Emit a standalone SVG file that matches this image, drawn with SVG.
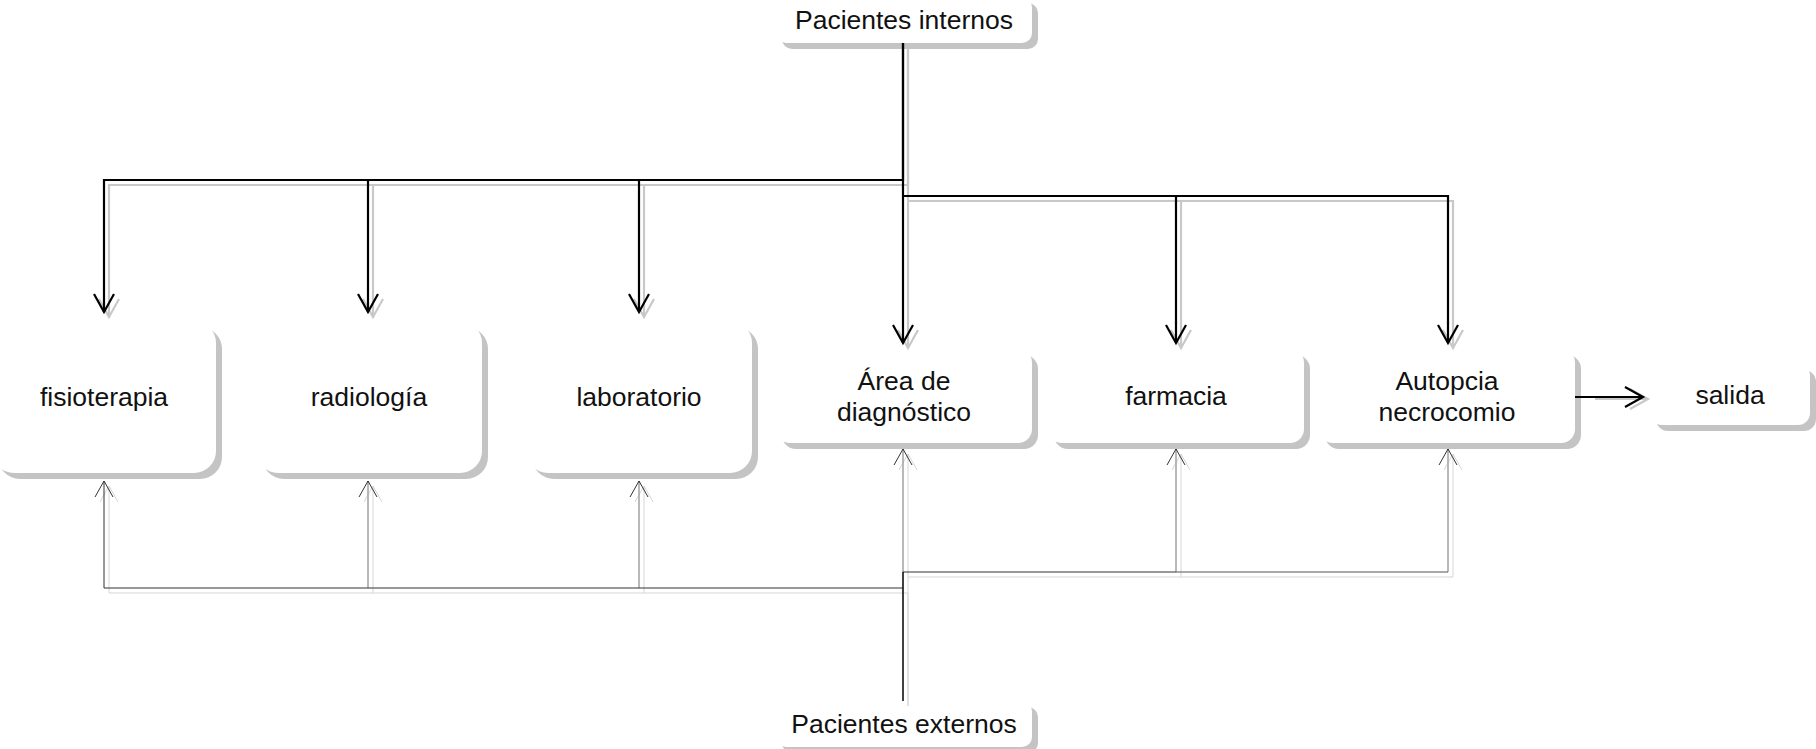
<svg xmlns="http://www.w3.org/2000/svg" width="1816" height="749" viewBox="0 0 1816 749">
<style>
.sh{fill:#c4c4c4}
.bx{fill:#fff}
.t{font-family:"Liberation Sans",Arial,sans-serif;font-size:26.5px;fill:#111;text-anchor:middle}
.k{fill:none;stroke:#000;stroke-width:2.2}
.ks{fill:none;stroke:#c8c8c8;stroke-width:2.2}
.b1{fill:none;stroke:#333;stroke-width:1}
.b2{fill:none;stroke:#a8a8a8;stroke-width:1.6}
.bs{fill:none;stroke:#d6d6d6;stroke-width:1}
.bm{fill:none;stroke:#111;stroke-width:1.6}
</style>
<defs>
<marker id="ak" markerUnits="userSpaceOnUse" viewBox="-20 -12 22 24" refX="0" refY="0" markerWidth="22" markerHeight="24" orient="auto" overflow="visible"><path d="M-18,-10 L0,0 L-18,10" fill="none" stroke="#000" stroke-width="2.2"/></marker>
<marker id="aks" markerUnits="userSpaceOnUse" viewBox="-20 -12 22 24" refX="0" refY="0" markerWidth="22" markerHeight="24" orient="auto" overflow="visible"><path d="M-18,-10 L0,0 L-18,10" fill="none" stroke="#c8c8c8" stroke-width="2.2"/></marker>
<marker id="ab" markerUnits="userSpaceOnUse" viewBox="-18 -11 20 22" refX="0" refY="0" markerWidth="20" markerHeight="22" orient="auto" overflow="visible"><path d="M-16,-9 L0,0 L-16,9" fill="none" stroke="#333" stroke-width="1"/></marker>
<marker id="abs" markerUnits="userSpaceOnUse" viewBox="-18 -11 20 22" refX="0" refY="0" markerWidth="20" markerHeight="22" orient="auto" overflow="visible"><path d="M-16,-9 L0,0 L-16,9" fill="none" stroke="#d6d6d6" stroke-width="1"/></marker>
</defs>

<g id="pacientes-internos"><rect class="sh" x="782" y="3" width="256" height="46" rx="10"/><rect class="bx" x="776" y="-3" width="256" height="46" rx="10"/><text class="t" x="904" y="29">Pacientes internos</text></g>
<g id="fisioterapia"><rect class="sh" x="-2" y="327" width="224" height="152" rx="22"/><rect class="bx" x="-8" y="321" width="224" height="152" rx="22"/><text class="t" x="104" y="406">fisioterapia</text></g>
<g id="radiologia"><rect class="sh" x="262" y="327" width="226" height="152" rx="22"/><rect class="bx" x="256" y="321" width="226" height="152" rx="22"/><text class="t" x="369" y="406">radiología</text></g>
<g id="laboratorio"><rect class="sh" x="532" y="327" width="226" height="152" rx="22"/><rect class="bx" x="526" y="321" width="226" height="152" rx="22"/><text class="t" x="639" y="406">laboratorio</text></g>
<g id="area-diagnostico"><rect class="sh" x="782" y="355" width="256" height="94" rx="14"/><rect class="bx" x="776" y="349" width="256" height="94" rx="14"/><text class="t" x="904" y="390">Área de</text><text class="t" x="904" y="421">diagnóstico</text></g>
<g id="farmacia"><rect class="sh" x="1054" y="355" width="256" height="94" rx="14"/><rect class="bx" x="1048" y="349" width="256" height="94" rx="14"/><text class="t" x="1176" y="405">farmacia</text></g>
<g id="autopcia"><rect class="sh" x="1325" y="355" width="256" height="94" rx="14"/><rect class="bx" x="1319" y="349" width="256" height="94" rx="14"/><text class="t" x="1447" y="390">Autopcia</text><text class="t" x="1447" y="421">necrocomio</text></g>
<g id="salida"><rect class="sh" x="1656" y="370" width="160" height="61" rx="12"/><rect class="bx" x="1650" y="364" width="160" height="61" rx="12"/><text class="t" x="1730" y="404">salida</text></g>
<g id="pacientes-externos"><rect class="sh" x="782" y="707" width="256" height="46" rx="10"/><rect class="bx" x="776" y="701" width="256" height="46" rx="10"/><text class="t" x="904" y="733">Pacientes externos</text></g>

<g id="connectors">
<path class="ks" d="M908,48 V185 H109 V317" marker-end="url(#aks)"/>
<path class="ks" d="M373,185 V317" marker-end="url(#aks)"/>
<path class="ks" d="M644,185 V317" marker-end="url(#aks)"/>
<path class="ks" d="M908,48 V348" marker-end="url(#aks)"/>
<path class="ks" d="M908,201 H1181 V348" marker-end="url(#aks)"/>
<path class="ks" d="M1181,201 H1453 V348" marker-end="url(#aks)"/>
<path class="ks" d="M1595,399 H1648" marker-end="url(#aks)"/>
<path class="k" d="M903,43 V180 H104 V312" marker-end="url(#ak)"/>
<path class="k" d="M368,180 V312" marker-end="url(#ak)"/>
<path class="k" d="M639,180 V312" marker-end="url(#ak)"/>
<path class="k" d="M903,43 V343" marker-end="url(#ak)"/>
<path class="k" d="M903,196 H1176 V343" marker-end="url(#ak)"/>
<path class="k" d="M1176,196 H1448 V343" marker-end="url(#ak)"/>
<path class="k" d="M1575,397 H1643" marker-end="url(#ak)"/>

<path class="bs" d="M908,706 V593 H109 V486" marker-end="url(#abs)"/>
<path class="bs" d="M373,593 V486" marker-end="url(#abs)"/>
<path class="bs" d="M644,593 V486" marker-end="url(#abs)"/>
<path class="bs" d="M908,706 V454" marker-end="url(#abs)"/>
<path class="bs" d="M908,577 H1181 V454" marker-end="url(#abs)"/>
<path class="bs" d="M1181,577 H1453 V454" marker-end="url(#abs)"/>
<path class="b2" d="M368,588 V481"/>
<path class="b2" d="M639,588 V481"/>
<path class="b2" d="M903,572 V449"/>
<path class="b2" d="M1176,572 V449"/>
<path class="b2" d="M1448,572 V449"/>
<path class="b1" d="M903,588 H104 V481" marker-end="url(#ab)"/>
<path class="b1" d="M368,482 V481" marker-end="url(#ab)"/>
<path class="b1" d="M639,482 V481" marker-end="url(#ab)"/>
<path class="b1" d="M903,450 V449" marker-end="url(#ab)"/>
<path class="b1" d="M1176,450 V449" marker-end="url(#ab)"/>
<path class="b1" d="M1448,450 V449" marker-end="url(#ab)"/>
<path class="b1" d="M903,572 H1176"/>
<path class="b1" style="stroke:#555" d="M1176,572 H1448"/>
<path class="bm" d="M903,701 V572"/>
</g>
</svg>
